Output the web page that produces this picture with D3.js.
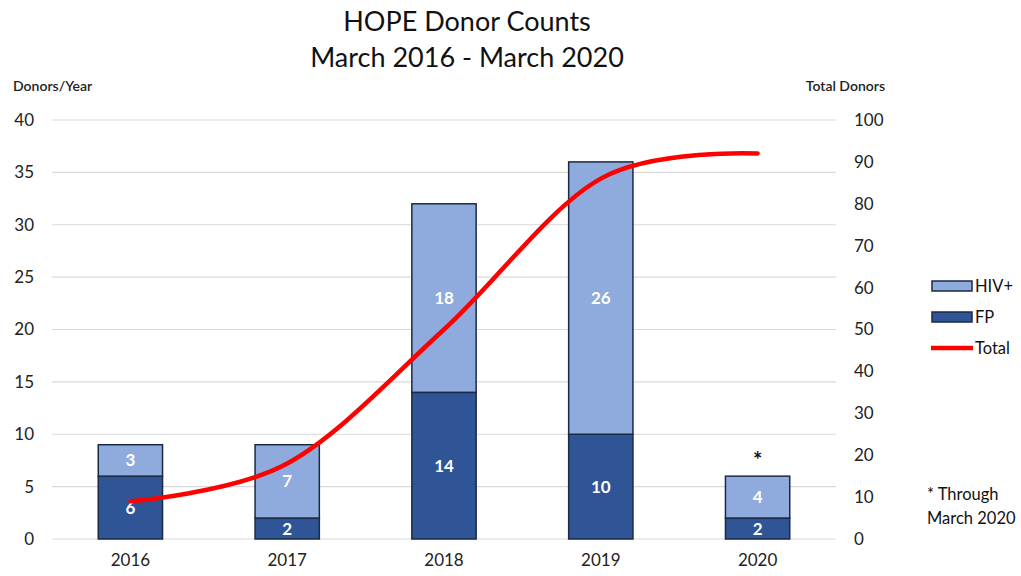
<!DOCTYPE html>
<html>
<head>
<meta charset="utf-8">
<script src="https://cdn.jsdelivr.net/npm/d3@7"></script>
<style>
  html, body { margin: 0; padding: 0; background: #fff; }
  svg { display: block; font-family: Lato, "Open Sans", sans-serif; }
</style>
</head>
<body>
<svg id="chart" width="1021" height="576"></svg>
<script>
// Donor counts per year, split by donor type, plus running total
const years = ["2016", "2017", "2018", "2019", "2020"];
const fpCounts = [6, 2, 14, 10, 2];
const hivCounts = [3, 7, 18, 26, 4];
const totalDonors = [9, 18, 50, 86, 92];
const leftTicks = [0, 5, 10, 15, 20, 25, 30, 35, 40];
const rightTicks = [0, 10, 20, 30, 40, 50, 60, 70, 80, 90, 100];

const colors = { fp: "#2f5597", hiv: "#8faadc", edge: "#1b2a44", total: "#ff0000", grid: "#d9d9d9" };

const svg = d3.select("#chart");
const plot = { left: 52, right: 836, top: 120, bottom: 539 };

const x = d3.scaleBand().domain(years).range([plot.left, plot.right]).paddingInner(0.59).paddingOuter(0.295);
const yL = d3.scaleLinear().domain([0, 40]).range([plot.bottom, plot.top]);
const yR = d3.scaleLinear().domain([0, 100]).range([plot.bottom, plot.top]);

// Title
svg.append("text").attr("x", 467).attr("y", 31).attr("text-anchor", "middle")
  .attr("font-size", 27).attr("fill", "#111").text("HOPE Donor Counts");
svg.append("text").attr("x", 467).attr("y", 67).attr("text-anchor", "middle")
  .attr("font-size", 27).attr("fill", "#111").text("March 2016 - March 2020");

// Axis titles
svg.append("text").attr("x", 13).attr("y", 91).attr("font-size", 14).attr("font-weight", 600).attr("fill", "#222")
  .text("Donors/Year");
svg.append("text").attr("x", 885).attr("y", 91).attr("text-anchor", "end").attr("font-size", 14).attr("font-weight", 600).attr("fill", "#222")
  .text("Total Donors");

// Gridlines
svg.append("g").selectAll("line").data(leftTicks).join("line")
  .attr("x1", plot.left).attr("x2", plot.right)
  .attr("y1", d => yL(d)).attr("y2", d => yL(d))
  .attr("stroke", colors.grid).attr("stroke-width", 1.2);

// Left axis
const leftAxis = svg.append("g").attr("transform", `translate(${plot.left},0)`)
  .call(d3.axisLeft(yL).tickValues(leftTicks).tickSize(0).tickPadding(18));
leftAxis.select(".domain").remove();
leftAxis.selectAll("text").attr("font-size", 17).attr("fill", "#222").attr("font-family", "Lato, sans-serif");

// Right axis
const rightAxis = svg.append("g").attr("transform", `translate(${plot.right},0)`)
  .call(d3.axisRight(yR).tickValues(rightTicks).tickSize(0).tickPadding(18));
rightAxis.select(".domain").remove();
rightAxis.selectAll("text").attr("font-size", 17).attr("fill", "#222").attr("font-family", "Lato, sans-serif");

// Bottom axis labels
const bottomAxis = svg.append("g").attr("transform", `translate(0,${plot.bottom})`)
  .call(d3.axisBottom(x).tickSize(0).tickPadding(15));
bottomAxis.select(".domain").remove();
bottomAxis.selectAll("text").attr("font-size", 17).attr("fill", "#222").attr("font-family", "Lato, sans-serif");

// Stacked bars
const rows = years.map((yr, i) => ({ year: yr, fp: fpCounts[i], hiv: hivCounts[i] }));
const stack = d3.stack().keys(["fp", "hiv"])(rows);

const layers = svg.append("g").selectAll("g").data(stack).join("g")
  .attr("fill", d => colors[d.key]);
layers.selectAll("rect").data(d => d).join("rect")
  .attr("x", d => x(d.data.year))
  .attr("width", x.bandwidth())
  .attr("y", d => yL(d[1]))
  .attr("height", d => yL(d[0]) - yL(d[1]))
  .attr("stroke", colors.edge).attr("stroke-width", 1.5);

// Segment value labels
layers.selectAll("text").data(d => d.map(s => ({ s, key: d.key }))).join("text")
  .attr("x", d => x(d.s.data.year) + x.bandwidth() / 2)
  .attr("y", d => (yL(d.s[0]) + yL(d.s[1])) / 2 + 6)
  .attr("text-anchor", "middle").attr("font-size", 17).attr("font-weight", "bold")
  .attr("fill", "#fff")
  .text(d => d.s.data[d.key]);

// Partial-year marker
svg.append("text")
  .attr("x", x("2020") + x.bandwidth() / 2)
  .attr("y", yL(fpCounts[4] + hivCounts[4]) - 8)
  .attr("text-anchor", "middle").attr("font-size", 22).attr("font-weight", "bold").attr("fill", "#111").text("*");

// Cumulative total line (smoothed)
const line = d3.line()
  .x((d, i) => x(years[i]) + x.bandwidth() / 2)
  .y(d => yR(d))
  .curve(d3.curveCatmullRom.alpha(0));
svg.append("path").datum(totalDonors)
  .attr("d", line).attr("fill", "none")
  .attr("stroke", colors.total).attr("stroke-width", 4.5).attr("stroke-linecap", "round");

// Legend
const lg = svg.append("g");
lg.append("rect").attr("x", 932).attr("y", 281).attr("width", 40).attr("height", 10)
  .attr("fill", colors.hiv).attr("stroke", colors.edge).attr("stroke-width", 1.5);
lg.append("text").attr("x", 975).attr("y", 292).attr("font-size", 16.5).attr("fill", "#111").text("HIV+");
lg.append("rect").attr("x", 932).attr("y", 312).attr("width", 40).attr("height", 10)
  .attr("fill", colors.fp).attr("stroke", colors.edge).attr("stroke-width", 1.5);
lg.append("text").attr("x", 975).attr("y", 323).attr("font-size", 16.5).attr("fill", "#111").text("FP");
lg.append("line").attr("x1", 931).attr("x2", 973).attr("y1", 348).attr("y2", 348)
  .attr("stroke", colors.total).attr("stroke-width", 4.5);
lg.append("text").attr("x", 975).attr("y", 354).attr("font-size", 16.5).attr("fill", "#111").text("Total");

// Footnote
svg.append("text").attr("x", 927).attr("y", 500).attr("font-size", 16.5).attr("fill", "#111").text("* Through");
svg.append("text").attr("x", 927).attr("y", 524).attr("font-size", 16.5).attr("fill", "#111").text("March 2020");
</script>
</body>
</html>
